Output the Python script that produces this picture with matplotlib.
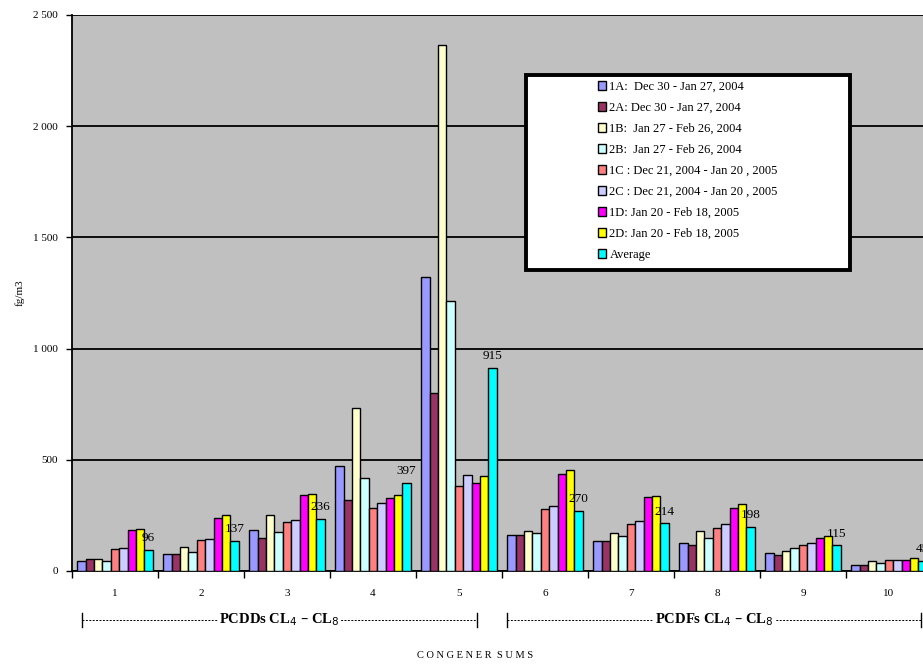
import matplotlib
matplotlib.use("Agg")
import matplotlib.pyplot as plt
import matplotlib.transforms as mtransforms
from matplotlib.patches import Rectangle
import numpy as np

plt.rcParams['font.family'] = ['Liberation Serif', 'DejaVu Serif']

# congener sums, fg/m3
groups = ['1', '2', '3', '4', '5', '6', '7', '8', '9', '10']
series = [
    '1A:  Dec 30 - Jan 27, 2004',
    '2A: Dec 30 - Jan 27, 2004',
    '1B:  Jan 27 - Feb 26, 2004',
    '2B:  Jan 27 - Feb 26, 2004',
    '1C : Dec 21, 2004 - Jan 20 , 2005',
    '2C : Dec 21, 2004 - Jan 20 , 2005',
    '1D: Jan 20 - Feb 18, 2005',
    '2D: Jan 20 - Feb 18, 2005',
    'Average',
]
colors = ['#9999FF', '#993366', '#FFFFCC', '#CCFFFF', '#FF8080',
          '#CCCCFF', '#FF00FF', '#FFFF00', '#00FFFF']

s1A = [45, 78, 183, 473, 1320, 163, 133, 126, 81, 28]
s2A = [52, 78, 148, 318, 800, 163, 133, 118, 73, 28]
s1B = [52, 108, 250, 733, 2366, 180, 171, 178, 88, 43]
s2B = [44, 85, 175, 418, 1215, 171, 156, 148, 103, 37]
s1C = [97, 138, 220, 283, 381, 277, 210, 195, 118, 51]
s2C = [105, 146, 228, 305, 432, 292, 223, 210, 126, 51]
s1D = [183, 237, 340, 327, 395, 435, 331, 285, 148, 51]
s2D = [190, 250, 348, 343, 425, 453, 337, 300, 156, 58]
avg = [96, 137, 236, 397, 915, 270, 214, 198, 115, 45]
values = [s1A, s2A, s1B, s2B, s1C, s2C, s1D, s2D, avg]

yticks = [0, 500, 1000, 1500, 2000, 2500]
ytick_labels = ['0', '500', '1 000', '1 500', '2 000', '2 500']

fig = plt.figure(figsize=(9.23, 6.66), dpi=100)
# plot area runs past the right edge, as in the original screenshot
ax = fig.add_axes([72 / 923, 95 / 666, 860 / 923, 556 / 666])
ax.set_facecolor('#C0C0C0')

n = len(series)
w = 0.0969
centers = np.arange(len(groups)) + 0.5
for j in range(n):
    ax.bar(centers + (j - (n - 1) / 2) * w, values[j], width=w,
           color=colors[j], edgecolor='black', linewidth=1.0,
           label=series[j], zorder=3)

# value labels over the average bars
xa = centers + (n - 1) / 2 * w
for x, v in zip(xa, avg):
    ax.text(x, v + 25, str(v), ha='center', va='bottom',
            fontsize=9.5, zorder=5)

ax.set_xlim(0, len(groups))
ax.set_ylim(0, 2500)
ax.set_yticks(yticks)
ax.set_yticklabels(ytick_labels, fontsize=8)
ax.yaxis.grid(True, color='black', linewidth=1.3, zorder=1)
ax.set_axisbelow(True)

ax.set_xticks(np.arange(len(groups) + 1))
ax.set_xticklabels([])
ax.set_xticks(centers, minor=True)
ax.set_xticklabels(groups, minor=True, fontsize=8)
ax.tick_params(axis='x', which='major', direction='out', length=5, width=1)
ax.tick_params(axis='x', which='minor', length=0, pad=13)
ax.tick_params(axis='y', direction='out', length=4, width=1, pad=6)

for side in ['top', 'right']:
    ax.spines[side].set_visible(False)
ax.spines['left'].set_linewidth(1.3)
ax.spines['bottom'].set_linewidth(1.3)

ax.set_ylabel('fg/m3', fontsize=8, labelpad=6)

# bracket annotations under the groups
trans = mtransforms.blended_transform_factory(ax.transData, ax.transAxes)
yb = -0.088
for x0, x1, txt in [(0.116, 4.71, r'PCDDs CL$_4$ – CL$_8$'),
                    (5.06, 9.87, r'PCDFs CL$_4$ – CL$_8$')]:
    ax.plot([x0, x1], [yb, yb], transform=trans, color='black',
            linewidth=0.7, linestyle=(0, (2, 1.5)), clip_on=False)
    for xe in (x0, x1):
        ax.plot([xe, xe], [yb - 0.012, yb + 0.012], transform=trans,
                color='black', linewidth=1, clip_on=False)
    ax.text((x0 + x1) / 2, yb, txt, transform=trans, ha='center',
            va='center', fontsize=10.5, fontweight='bold',
            bbox=dict(facecolor='white', edgecolor='none', pad=1))

fig.text(475 / 923, 1 - 655 / 666, 'C O N G E N E R  S U M S',
         ha='center', va='center', fontsize=7.5)

# legend box
fig.patches.append(Rectangle((526 / 923, 1 - 270 / 666), 324 / 923, 195 / 666,
                             transform=fig.transFigure, facecolor='white',
                             edgecolor='black', linewidth=2.8, zorder=4))
leg = fig.legend(loc='center', bbox_to_anchor=(688 / 923, 1 - 171 / 666),
                 frameon=False, fontsize=9, handlelength=0.65,
                 handleheight=0.65, handletextpad=0.25, labelspacing=0.72)
leg.set_zorder(6)

fig.savefig('out.png', dpi=100)
